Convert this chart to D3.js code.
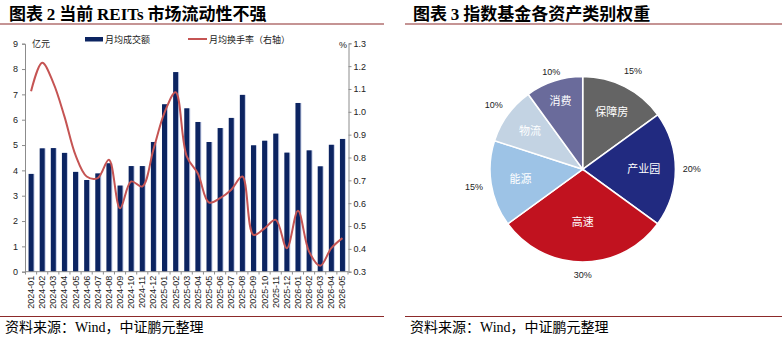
<!DOCTYPE html>
<html><head><meta charset="utf-8">
<script src="https://cdn.jsdelivr.net/npm/d3@7"></script>
<style>body{margin:0;background:#fff}svg{display:block}</style>
</head><body>
<svg id="c" width="782" height="342"></svg>
<script>
const months = ["2024-01","2024-02","2024-03","2024-04","2024-05","2024-06","2024-07","2024-08","2024-09","2024-10","2024-11","2024-12","2025-01","2025-02","2025-03","2025-04","2025-05","2025-06","2025-07","2025-08","2025-09","2025-10","2025-11","2025-12","2026-01","2026-02","2026-03","2026-04","2026-05"];
const turnoverAmt = [3.86,4.87,4.88,4.69,3.94,3.62,3.88,4.28,3.40,4.17,4.17,5.12,6.61,7.88,6.45,5.91,5.12,5.67,6.07,6.98,4.99,5.17,5.45,4.70,6.66,4.79,4.16,5.01,5.24];
const turnoverRate = [1.09,1.215,1.127,0.98,0.81,0.717,0.71,0.79,0.578,0.695,0.673,0.834,0.996,1.086,0.805,0.73,0.603,0.622,0.659,0.717,0.461,0.49,0.527,0.403,0.567,0.388,0.326,0.403,0.447];
const leftTicks = [0,1,2,3,4,5,6,7,8,9];
const rightTicks = [0.3,0.4,0.5,0.6,0.7,0.8,0.9,1.0,1.1,1.2,1.3];
const pieCats = ["保障房","产业园","高速","能源","物流","消费"];
const pieVals = [15,20,30,15,10,10];
const pieColors = ["#646464","#212a80","#c1121f","#9dc3e6","#c3d3e3","#6a6b9b"];

const svg = d3.select("#c");
const CJK = "'Noto Sans CJK SC','Noto Sans',sans-serif";
const SANS = "'Liberation Sans',Arial,sans-serif";
const SERIF = "'Liberation Serif','Times New Roman',serif";
const RULE = "#8c2a2a";

// Titles
function title(x, parts){
  const t = svg.append("text").attr("x",x).attr("y",19.8).attr("font-size",17).attr("font-weight","bold").attr("fill","#000");
  parts.forEach(p=>t.append("tspan").attr("font-family",p[1]?SERIF:CJK).text(p[0]));
}
title(9, [["图表 ",0],["2",1],[" 当前 ",0],["REITs",1],[" 市场流动性不强",0]]);
title(413, [["图表 ",0],["3",1],[" 指数基金各资产类别权重",0]]);
svg.append("line").attr("x1",0).attr("x2",384).attr("y1",24).attr("y2",24).attr("stroke",RULE).attr("stroke-width",1.2);
svg.append("line").attr("x1",405).attr("x2",782).attr("y1",24).attr("y2",24).attr("stroke",RULE).attr("stroke-width",1.2);
svg.append("line").attr("x1",0).attr("x2",384).attr("y1",316.5).attr("y2",316.5).attr("stroke",RULE).attr("stroke-width",1.2);
svg.append("line").attr("x1",405).attr("x2",782).attr("y1",316.5).attr("y2",316.5).attr("stroke",RULE).attr("stroke-width",1.2);
function foot(x){
  const t = svg.append("text").attr("x",x).attr("y",332).attr("font-size",14).attr("fill","#000");
  t.append("tspan").attr("font-family",CJK).text("资料来源：");
  t.append("tspan").attr("font-family",SERIF).text("Wind");
  t.append("tspan").attr("font-family",CJK).text("，中证鹏元整理");
}
foot(5); foot(410);

// Left chart
const x = d3.scaleBand().domain(months).range([25.5,348]).paddingInner(0.55).paddingOuter(0.275);
const yL = d3.scaleLinear().domain([0,9]).range([271.7,43.7]);
const yR = d3.scaleLinear().domain([0.3,1.3]).range([271.7,43.3]);
const g = svg.append("g");

// bars (with light edge)
g.selectAll("rect.sh").data(months).join("rect")
  .attr("x",d=>x(d)+1).attr("width",x.bandwidth()).attr("y",(d,i)=>yL(turnoverAmt[i])).attr("height",(d,i)=>yL(0)-yL(turnoverAmt[i]))
  .attr("fill","#c4cde6");
g.selectAll("rect.b").data(months).join("rect")
  .attr("x",d=>x(d)).attr("width",x.bandwidth()).attr("y",(d,i)=>yL(turnoverAmt[i])).attr("height",(d,i)=>yL(0)-yL(turnoverAmt[i]))
  .attr("fill","#0c2461");

// line
const line = d3.line().x((d,i)=>x(months[i])+x.bandwidth()/2).y(d=>yR(d)).curve(d3.curveCatmullRom.alpha(0.5));
g.append("path").datum(turnoverRate).attr("d",line).attr("fill","none").attr("stroke","#c55453").attr("stroke-width",2);

// axes
const axL = g.append("g").attr("transform","translate(25,0)").call(d3.axisLeft(yL).tickValues(leftTicks).tickSize(3).tickFormat(d3.format("d")));
const axR = g.append("g").attr("transform","translate(348.5,0)").call(d3.axisRight(yR).tickValues(rightTicks).tickSize(3).tickFormat(d3.format(".1f")));
const axB = g.append("g").attr("transform","translate(0,271.7)").call(d3.axisBottom(x).tickSize(0).tickFormat(d=>d));
[axL,axR,axB].forEach(a=>{
  a.select(".domain").attr("stroke","#8c8c8c");
  a.selectAll(".tick line").attr("stroke","#8c8c8c");
  a.selectAll("text").attr("font-family",SANS).attr("font-size",9).attr("fill","#222");
});
axL.selectAll("text").attr("x",-7);
axR.selectAll("text").attr("x",5);
axB.select(".domain").attr("d","M25,0H348.5");
axB.selectAll("text").attr("transform","rotate(-90)").attr("text-anchor","end").attr("x",-4).attr("y",0).attr("dy","0.33em");
// category boundary ticks
g.selectAll("line.bt").data(d3.range(months.length+1)).join("line")
  .attr("x1",i=>25.5+i*x.step()).attr("x2",i=>25.5+i*x.step()).attr("y1",271.7).attr("y2",274.5).attr("stroke","#8c8c8c");

// unit labels
g.append("text").attr("x",32).attr("y",47).attr("font-family",CJK).attr("font-size",9).attr("fill","#222").text("亿元");
g.append("text").attr("x",339).attr("y",48).attr("font-family",SANS).attr("font-size",9).attr("fill","#222").text("%");
// legend
g.append("rect").attr("x",85).attr("y",37).attr("width",18).attr("height",4.5).attr("fill","#0c2461");
g.append("text").attr("x",105).attr("y",42.5).attr("font-family",CJK).attr("font-size",9).attr("fill","#222").text("月均成交额");
g.append("line").attr("x1",188).attr("x2",207).attr("y1",39).attr("y2",39).attr("stroke","#c55453").attr("stroke-width",2);
g.append("text").attr("x",209).attr("y",42.5).attr("font-family",CJK).attr("font-size",9).attr("fill","#222").text("月均换手率（右轴）");

// Pie
const cx = 582.7, cy = 169.3, R = 92.7;
const pie = d3.pie().sort(null).value(d=>d)(pieVals);
const arc = d3.arc().innerRadius(0).outerRadius(R);
const pg = svg.append("g").attr("transform",`translate(${cx},${cy})`);
pg.selectAll("path").data(pie).join("path").attr("d",arc).attr("fill",(d,i)=>pieColors[i]).attr("stroke","#fff").attr("stroke-width",1.5);
const inR = [64,61,53,63,65,72];
pg.selectAll("text.in").data(pie).join("text")
  .attr("transform",(d,i)=>{const a=(d.startAngle+d.endAngle)/2; return `translate(${Math.sin(a)*inR[i]},${-Math.cos(a)*inR[i]})`;})
  .attr("text-anchor","middle").attr("dy","0.35em").attr("font-family",CJK).attr("font-size",11).attr("fill","#fff").text((d,i)=>pieCats[i]);
const outR = [111,109,106,110,110,102];
pg.selectAll("text.out").data(pie).join("text")
  .attr("transform",(d,i)=>{const a=(d.startAngle+d.endAngle)/2; return `translate(${Math.sin(a)*outR[i]},${-Math.cos(a)*outR[i]})`;})
  .attr("text-anchor","middle").attr("dy","0.35em").attr("font-family",SANS).attr("font-size",9).attr("fill","#222").text((d,i)=>pieVals[i]+"%");
</script>
</body></html>
